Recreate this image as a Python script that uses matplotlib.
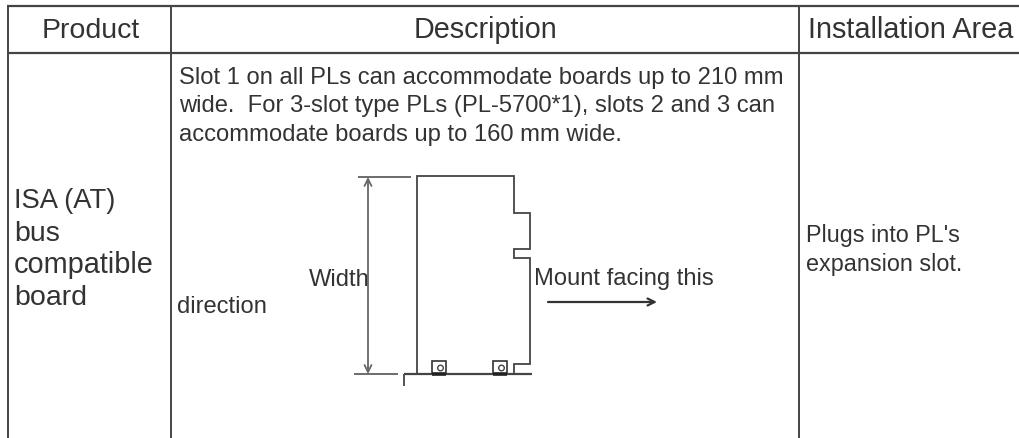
"""
Product table with the ISA board mounting sketch.
"""

import matplotlib
matplotlib.use('Agg')
import matplotlib.pyplot as plt
from matplotlib.patches import Circle, Rectangle

plt.rcParams['font.family'] = ['Liberation Sans', 'DejaVu Sans']

INK = '#333333'
BODY_SIZE = 17.1

HEADERS = ['Product', 'Description', 'Installation Area']
PRODUCT_LINES = ['ISA (AT)', 'bus', 'compatible', 'board']
PRODUCT_SIZES = [19.7, 20.5, 20.8, 20.5]
DESCRIPTION_LINES = [
    'Slot 1 on all PLs can accommodate boards up to 210 mm',
    'wide.  For 3-slot type PLs (PL-5700*1), slots 2 and 3 can',
    'accommodate boards up to 160 mm wide.',
]
AREA_LINES = ['Plugs into PL\'s', 'expansion slot.']

fig = plt.figure(figsize=(10.2, 4.38), dpi=100)
ax = fig.add_axes([0, 0, 1, 1])
ax.set_xlim(0, 1020)
ax.set_ylim(438, 0)
ax.axis('off')


def line(xs, ys, lw=1.3, color='#444444'):
    ax.plot(xs, ys, color=color, lw=lw, solid_capstyle='butt', solid_joinstyle='miter')


def label(x, y, s, size, ha='left'):
    ax.text(x, y, s, ha=ha, va='baseline', fontsize=size, color=INK)


# --- Table rules ---
line([7, 1020], [6, 6], lw=1.6)
line([7, 1020], [53, 53], lw=1.6)
for x in (8, 171, 799):
    line([x, x], [6, 438], lw=1.4)

# --- Text ---
for x, s, size in zip((91, 486, 911), HEADERS, (20.5, 20.7, 20.8)):
    label(x, 38.5, s, size, ha='center')
for y, s, size in zip((208, 241, 273, 305), PRODUCT_LINES, PRODUCT_SIZES):
    label(14, y, s, size)
for y, s in zip((84, 112, 141), DESCRIPTION_LINES):
    label(179, y, s, BODY_SIZE)
for y, s in zip((242, 271), AREA_LINES):
    label(806.5, y, s, 16.8)
label(177, 313, 'direction', BODY_SIZE)
label(309, 286, 'Width', BODY_SIZE)
label(534, 285, 'Mount facing this', BODY_SIZE)

# --- Board outline ---
line([417, 417, 514, 514, 530, 530, 514, 514, 530, 530, 514, 514],
     [374, 176, 176, 213, 213, 249, 249, 258, 258, 364, 364, 374])
line([404, 404], [386, 374])
line([404, 532], [374, 374], lw=1.6)

# --- Mounting brackets ---
for x in (432, 493):
    ax.add_patch(Rectangle((x, 361), 14.5, 13, fc='white', ec='#333333', lw=1.2))
    line([x, x + 14.5], [374, 374], lw=2.6, color='#222222')
    ax.add_patch(Circle((x + 8.5, 368), 2.8, fc='white', ec='#444444', lw=1))

# --- Width dimension ---
line([358, 411], [177, 177], lw=1.1)
line([354, 398], [374, 374], lw=1.1)
ax.annotate('', xy=(368, 177), xytext=(368, 374),
            arrowprops=dict(arrowstyle='<->,head_length=0.5,head_width=0.25', color='#666666',
                            lw=1.3, shrinkA=0, shrinkB=0))

# --- Mount direction arrow ---
ax.annotate('', xy=(657, 302), xytext=(548, 302),
            arrowprops=dict(arrowstyle='->,head_length=0.5,head_width=0.25', color='#333333',
                            lw=1.6, shrinkA=0, shrinkB=0))

fig.savefig('out.png', dpi=100)
